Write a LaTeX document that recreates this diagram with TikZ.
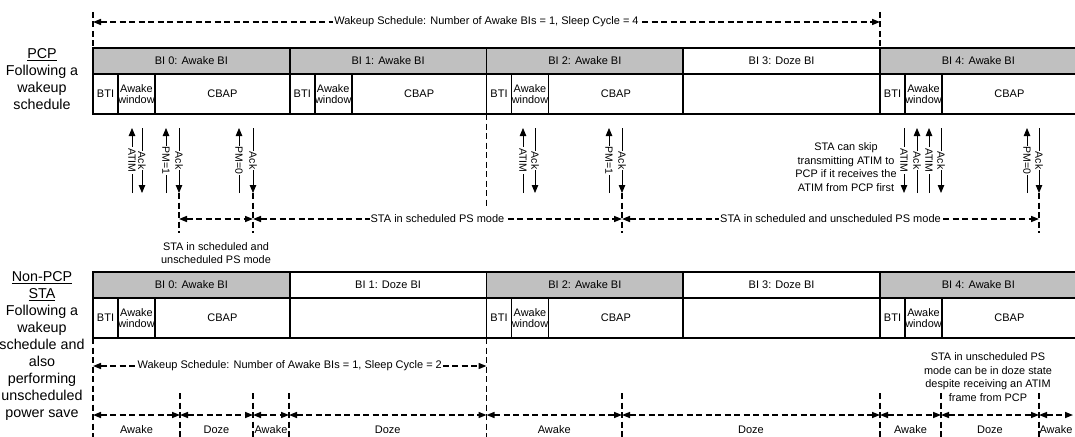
\documentclass[tikz,border=0pt]{standalone}
\usepackage{fontspec}
\setmainfont{Liberation Sans}
\usetikzlibrary{arrows.meta}
\definecolor{hdrgray}{RGB}{192,192,192}
\newcommand\mup[3]{\coordinate (#1b) at (#2,193); \coordinate (#1t) at (#2,128); \draw[msg] (#1b) -- node[mlbl]{#3} (#1t);}
\newcommand\mdn[3]{\coordinate (#1t) at (#2,128); \coordinate (#1b) at (#2,193); \draw[msg] (#1t) -- node[mlbl]{#3} (#1b);}
\begin{document}
\begin{tikzpicture}[x=1pt,y=-1pt,
  txt/.style={font=\fontsize{11}{13}\selectfont},
  cell/.style={draw, line width=1.8pt, anchor=north west, inner sep=0pt, outer sep=0pt, txt},
  hdr/.style={cell, fill=hdrgray, minimum width=196.75pt, minimum height=26pt},
  dozehdr/.style={cell, fill=white, minimum width=196.75pt, minimum height=26pt},
  body/.style={cell, minimum height=40pt},
  awbody/.style={body, minimum width=37pt, align=center, font=\fontsize{10.9}{11}\selectfont},
  msg/.style={line width=0.8pt, -{Triangle[length=8pt,width=6.5pt]}},
  mlbl/.style={rotate=-90, fill=white, inner sep=1pt, font=\fontsize{10.5}{12}\selectfont},
  dsh/.style={line width=1.5pt, dash pattern=on 6pt off 3.5pt},
  dar/.style={dsh, {Triangle[length=8pt,width=6pt]}-{Triangle[length=8pt,width=6pt]}},
  dlbl/.style={txt, fill=white, inner sep=1pt},
  side/.style={align=center, font=\fontsize{14.3}{17}\selectfont},
  note/.style={align=center, font=\fontsize{10.9}{13.5}\selectfont},
  seg/.style={txt, yshift=-15pt},
]
\useasboundingbox (0,0) rectangle (1075,436);

% ---------- PCP table ----------
\node[hdr] (ph0) at (93,48) {BI 0: Awake BI};
\node[hdr] (ph1) at (289.75,48) {BI 1: Awake BI};
\node[hdr] (ph2) at (486.5,48) {BI 2: Awake BI};
\node[dozehdr] (ph3) at (683.25,48) {BI 3: Doze BI};
\node[hdr] (ph4) at (880,48) {BI 4: Awake BI};
\foreach \n/\x in {0/93,1/289.75,2/486.5,4/880}{
  \node[body, minimum width=25pt] (pbti\n) at (\x,74) {BTI};
  \node[awbody] (paw\n) at (\x+25,74) {Awake\\window};
  \node[body, minimum width=134.75pt] (pcb\n) at (\x+62,74) {CBAP};
}
\node[body, minimum width=196.75pt] (pdz3) at (683.25,74) {};

% ---------- Non-PCP STA table ----------
\node[hdr] (sh0) at (93,272) {BI 0: Awake BI};
\node[dozehdr] (sh1) at (289.75,272) {BI 1: Doze BI};
\node[hdr] (sh2) at (486.5,272) {BI 2: Awake BI};
\node[dozehdr] (sh3) at (683.25,272) {BI 3: Doze BI};
\node[hdr] (sh4) at (880,272) {BI 4: Awake BI};
\foreach \n/\x in {0/93,2/486.5,4/880}{
  \node[body, minimum width=25pt] (sbti\n) at (\x,298) {BTI};
  \node[awbody] (saw\n) at (\x+25,298) {Awake\\window};
  \node[body, minimum width=134.75pt] (scb\n) at (\x+62,298) {CBAP};
}
\node[body, minimum width=196.75pt] (sdz1) at (289.75,298) {};
\node[body, minimum width=196.75pt] (sdz3) at (683.25,298) {};

% ---------- side labels ----------
\node[side] (lp) at (42,79) {\underline{PCP}\\Following a\\wakeup\\schedule};
\node[side] (ls) at (42,346) {\underline{Non-PCP}\\\underline{STA}\\Following a\\wakeup\\schedule and\\also\\performing\\unscheduled\\power save};

% ---------- top wakeup schedule ----------
\coordinate (tt0) at (93,12);
\coordinate (tt4) at (880,12);
\draw[dsh] (tt0) -- (ph0.north west);
\draw[dsh] (tt4) -- (ph4.north west);
\coordinate (ta0) at (93,22);
\coordinate (ta4) at (880,22);
\draw[dar] (ta0) -- node[dlbl]{Wakeup Schedule: Number of Awake BIs = 1, Sleep Cycle = 4} (ta4);

% ---------- frame exchanges ----------
\mup{m1}{132}{ATIM} \mdn{m2}{142}{Ack}
\mup{m3}{166}{PM=1} \mdn{m4}{179}{Ack}
\mup{m5}{239}{PM=0} \mdn{m6}{253}{Ack}
\mup{m7}{523}{ATIM} \mdn{m8}{535}{Ack}
\mup{m9}{609}{PM=1} \mdn{m10}{622}{Ack}
\mdn{m11}{904}{ATIM} \mup{m12}{917}{Ack} \mup{m13}{929}{ATIM} \mdn{m14}{941}{Ack}
\mup{m15}{1027}{PM=0} \mdn{m16}{1039}{Ack}

% dashed drop lines
\coordinate (d4) at (179,233);
\coordinate (d6) at (253,233);
\coordinate (d10) at (622,233);
\coordinate (d16) at (1039,233);
\draw[dsh] (m4b) -- (d4);
\draw[dsh] (m6b) -- (d6);
\draw[dsh] (m10b) -- (d10);
\draw[dsh] (m16b) -- (d16);
\coordinate (d486) at (486.5,209);
\draw[dsh] (pbti2.south west) -- (d486);

% mode arrows
\coordinate (h1) at (179,219);
\coordinate (h2) at (253,219);
\coordinate (h3) at (622,219);
\coordinate (h4) at (1039,219);
\draw[dar] (h1) -- (h2);
\draw[dar] (h2) -- node[dlbl]{STA in scheduled PS mode} (h3);
\draw[dar] (h3) -- node[dlbl]{STA in scheduled and unscheduled PS mode} (h4);

\node[note] (n1) at (216,253) {STA in scheduled and\\unscheduled PS mode};
\node[note] (n2) at (846,167) {STA can skip\\transmitting ATIM to\\PCP if it receives the\\ATIM from PCP first};

% ---------- bottom ----------
\coordinate (v0) at (93,437);
\coordinate (v2) at (486.5,437);
\draw[dsh] (sbti0.south west) -- (v0);
\draw[dsh] (sbti2.south west) -- (v2);
\coordinate (w0) at (93,366);
\coordinate (w2) at (486.5,366);
\draw[dar] (w0) -- node[dlbl]{Wakeup Schedule: Number of Awake BIs = 1, Sleep Cycle = 2} (w2);

\foreach \x [count=\k] in {180,253,289,622,880,941,1039}{
  \coordinate (tk\k) at (\x,393);
  \coordinate (tb\k) at (\x,437);
  \draw[dsh] (tk\k) -- (tb\k);
}
\coordinate (s0) at (93,415);
\coordinate (s1) at (180,415);
\coordinate (s2) at (253,415);
\coordinate (s3) at (289,415);
\coordinate (s4) at (486.5,415);
\coordinate (s5) at (622,415);
\coordinate (s6) at (880,415);
\coordinate (s7) at (941,415);
\coordinate (s8) at (1039,415);
\coordinate (s9) at (1073,415);
\draw[dar] (s0) -- node[seg]{Awake} (s1);
\draw[dar] (s1) -- node[seg]{Doze} (s2);
\draw[dar] (s2) -- node[seg]{Awake} (s3);
\draw[dar] (s3) -- node[seg]{Doze} (s4);
\draw[dar] (s4) -- node[seg]{Awake} (s5);
\draw[dar] (s5) -- node[seg]{Doze} (s6);
\draw[dar] (s6) -- node[seg]{Awake} (s7);
\draw[dar] (s7) -- node[seg]{Doze} (s8);
\draw[dar] (s8) -- node[seg]{Awake} (s9);

\node[note] (n3) at (988,377) {STA in unscheduled PS\\mode can be in doze state\\despite receiving an ATIM\\frame from PCP};
\end{tikzpicture}
\end{document}
